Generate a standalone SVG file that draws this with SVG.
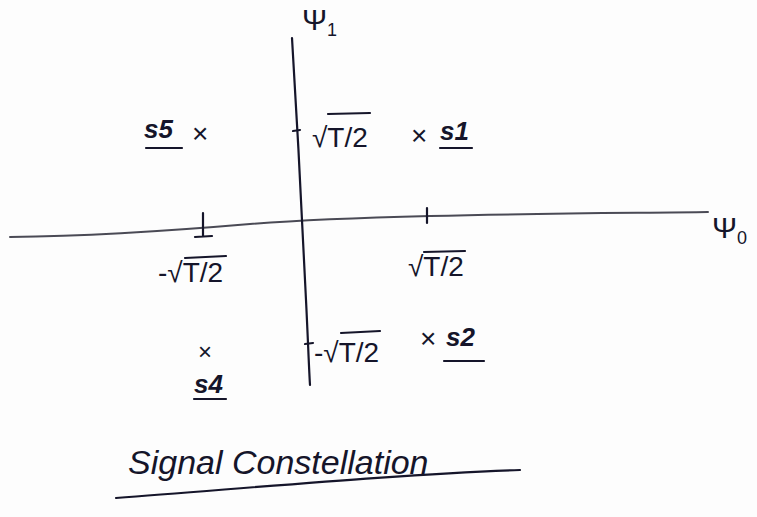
<svg xmlns="http://www.w3.org/2000/svg" width="757" height="517" viewBox="0 0 757 517">
<style>
.ink{fill:#15152a;font-family:"Liberation Sans","DejaVu Sans",sans-serif}
.lbl{font-size:28px}
.pt{font-size:28px}
.sym{font-size:26px;font-style:italic;font-weight:bold}
.ln{stroke:#15152a;stroke-width:2.2;fill:none;stroke-linecap:round}
.ax{stroke:#4a4a55;stroke-width:2;fill:none;stroke-linecap:round}
</style>
<rect width="757" height="517" fill="#fdfdfd"/>
<g id="axes">
<path class="ax" d="M10,237 C100,236 180,230 250,224 C300,220 350,218 430,216 C550,213 650,213 708,212"/>
<path class="ln" d="M292,38 C297,120 303,230 306,300 C308,340 309,370 310,385"/>
<path class="ln" d="M203,213 L203,236 M195,237 L212,236"/>
<path class="ln" d="M427,208 L427,223"/>
<path class="ln" d="M293,131 L300,130"/>
<path class="ln" d="M305,344 L313,343"/>
</g>
<g id="axis-labels">
<text class="ink" font-size="30" x="302" y="30">Ψ<tspan font-size="18" dy="6">1</tspan></text>
<text class="ink" font-size="30" x="712" y="238">Ψ<tspan font-size="18" dy="6">0</tspan></text>
</g>
<g id="tick-labels">
<text class="ink lbl" x="158" y="282">-√T/2</text>
<path class="ln" d="M185,258 L226,256" stroke-width="1.5"/>
<text class="ink lbl" x="408" y="276">√T/2</text>
<path class="ln" d="M424,252 L465,251" stroke-width="1.5"/>
<text class="ink lbl" x="312" y="147">√T/2</text>
<path class="ln" d="M328,114 L370,113" stroke-width="1.5"/>
<text class="ink lbl" x="314" y="362">-√T/2</text>
<path class="ln" d="M341,333 L380,331" stroke-width="1.5"/>
</g>
<g id="s1">
<text class="ink pt" x="411" y="145">×</text>
<text class="ink sym" x="440" y="140">s1</text>
<path class="ln" d="M440,148 L472,148"/>
</g>
<g id="s5">
<text class="ink sym" x="144" y="138">s5</text>
<path class="ln" d="M146,148 L182,148"/>
<text class="ink pt" x="192" y="143">×</text>
</g>
<g id="s2">
<text class="ink pt" x="420" y="348">×</text>
<text class="ink sym" x="446" y="346">s2</text>
<path class="ln" d="M444,361 L484,361"/>
</g>
<g id="s4">
<text class="ink" font-size="24" x="198" y="360">×</text>
<text class="ink sym" x="194" y="393">s4</text>
<path class="ln" d="M194,399 L226,399"/>
</g>
<g id="title">
<text class="ink" font-size="34" x="128" y="474" font-style="italic">Signal   Constellation</text>
<path class="ln" d="M116,498 C250,488 400,474 520,470"/>
</g>
</svg>
